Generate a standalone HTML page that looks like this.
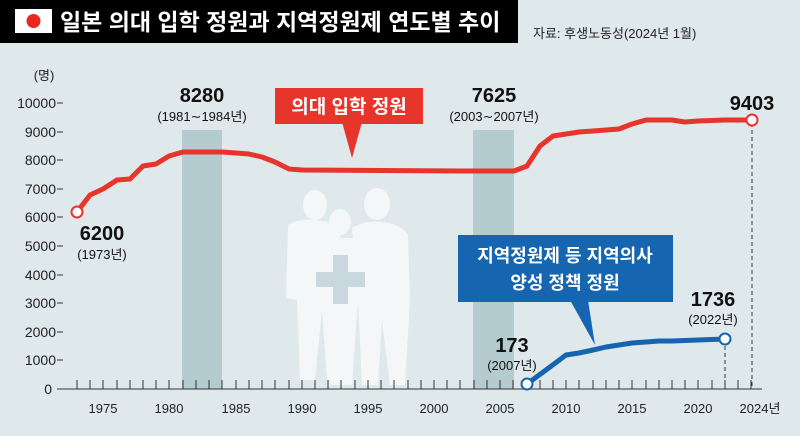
<!DOCTYPE html>
<html><head><meta charset="utf-8"><style>
body{margin:0;width:800px;height:431px;overflow:hidden;background:#dfe8eb;font-family:"Liberation Sans","Noto Sans CJK KR",sans-serif}
</style></head><body>
<svg width="800" height="431" viewBox="0 0 800 431" xmlns="http://www.w3.org/2000/svg" style="font-family:'Liberation Sans','Noto Sans CJK KR',sans-serif">
<rect width="800" height="431" fill="#dfe8eb"/>
<rect x="0" y="0" width="518" height="43" fill="#000"/>
<rect x="15" y="9" width="37" height="24" fill="#fff"/>
<circle cx="33.5" cy="21" r="7" fill="#e8281f"/>
<text x="60" y="30" fill="#fff" font-size="23" font-weight="bold">일본 의대 입학 정원과 지역정원제 연도별 추이</text>
<text x="533" y="38" fill="#222" font-size="13">자료: 후생노동성(2024년 1월)</text>
<!-- bands -->
<rect x="182" y="130" width="40" height="259" fill="#b4cbcf"/>
<rect x="473" y="130" width="41" height="259" fill="#b4cbcf"/>
<!-- silhouettes -->
<g fill="#f4f7f8">
<ellipse cx="315" cy="205" rx="12" ry="15"/>
<path d="M288 225 Q300 218 315 220 Q330 220 340 232 L345 300 L340 380 L327 380 L322 310 L315 380 L300 380 L297 300 L286 298 Z"/>
<ellipse cx="340" cy="222" rx="11" ry="13"/>
<path d="M325 238 L355 238 L358 300 L352 385 L330 385 Z"/>
<ellipse cx="377" cy="204" rx="13" ry="16"/>
<path d="M352 228 Q365 220 378 222 Q400 222 408 235 L410 300 L405 385 L390 385 L382 320 L378 385 L362 385 L358 300 Z"/>
</g>
<path d="M333 255 h15 v17 h17 v15 h-17 v17 h-15 v-17 h-17 v-15 h17 z" fill="#c8d8dc"/>
<!-- y axis -->
<g font-size="14" fill="#222" text-anchor="end">
<text x="44" y="80" text-anchor="middle" font-size="13">(명)</text>
<text x="56" y="108">10000</text><text x="56" y="137">9000</text><text x="56" y="165">8000</text>
<text x="56" y="194">7000</text><text x="56" y="222">6000</text><text x="56" y="251">5000</text>
<text x="56" y="280">4000</text><text x="56" y="308">3000</text><text x="56" y="337">2000</text>
<text x="56" y="365">1000</text><text x="52" y="394">0</text>
</g>
<g stroke="#333" stroke-width="1">
<path d="M57 103h6M57 132h6M57 160h6M57 189h6M57 217h6M57 246h6M57 275h6M57 303h6M57 332h6M57 360h6"/>
<line x1="57" y1="389" x2="762" y2="389"/>
<path id="t" d="M77 389v-9M90 389v-9M103 389v-9M117 389v-9M130 389v-9M143 389v-9M156 389v-9M169 389v-9M183 389v-9M196 389v-9M209 389v-9M222 389v-9M236 389v-9M249 389v-9M262 389v-9M275 389v-9M289 389v-9M302 389v-9M315 389v-9M328 389v-9M341 389v-9M355 389v-9M368 389v-9M381 389v-9M394 389v-9M408 389v-9M421 389v-9M434 389v-9M447 389v-9M460 389v-9M474 389v-9M487 389v-9M500 389v-9M513 389v-9M527 389v-9M540 389v-9M553 389v-9M566 389v-9M579 389v-9M593 389v-9M606 389v-9M619 389v-9M632 389v-9M646 389v-9M659 389v-9M672 389v-9M685 389v-9M698 389v-9M712 389v-9M725 389v-9M738 389v-9M751 389v-9"/>
</g>
<line x1="752" y1="123" x2="752" y2="389" stroke="#333" stroke-dasharray="4,3"/>
<line x1="725" y1="346" x2="725" y2="389" stroke="#333" stroke-dasharray="4,3"/>
<g font-size="13" fill="#222" text-anchor="middle">
<text x="103" y="413">1975</text><text x="169" y="413">1980</text><text x="236" y="413">1985</text>
<text x="302" y="413">1990</text><text x="368" y="413">1995</text><text x="434" y="413">2000</text>
<text x="500" y="413">2005</text><text x="566" y="413">2010</text><text x="632" y="413">2015</text>
<text x="698" y="413">2020</text><text x="760" y="413">2024년</text>
</g>
<!-- red line -->
<polyline fill="none" stroke="#e8352b" stroke-width="5" stroke-linejoin="round" points="77,212 90,195 103,189 117,180 130,179 143,166 156,164 169,156 183,152 222,152 236,153 249,154 262,157 275,162 289,169 302,170 460,171 514,171 527,166 540,146 553,136 566,134 579,132 593,131 606,130 619,129 632,124 646,120 659,120 672,120 685,122 698,121 725,120 752,120"/>
<circle cx="77" cy="212" r="5.5" fill="#fff" stroke="#e8352b" stroke-width="2"/>
<circle cx="752" cy="120" r="5.5" fill="#fff" stroke="#e8352b" stroke-width="2"/>
<!-- blue line -->
<polyline fill="none" stroke="#1565b0" stroke-width="5" stroke-linejoin="round" points="527,384 550,367 566,355 579,353 593,350 606,347 619,345 632,343 646,342 659,341 672,341 698,340 725,339"/>
<circle cx="527" cy="384" r="5.5" fill="#fff" stroke="#1565b0" stroke-width="2"/>
<circle cx="725" cy="339" r="5.5" fill="#fff" stroke="#1565b0" stroke-width="2"/>
<!-- labels -->
<g fill="#111" text-anchor="middle">
<text x="202" y="102" font-size="20" font-weight="bold">8280</text>
<text x="202" y="121" font-size="13">(1981∼1984년)</text>
<text x="494" y="102" font-size="20" font-weight="bold">7625</text>
<text x="494" y="121" font-size="13">(2003∼2007년)</text>
<text x="102" y="240" font-size="20" font-weight="bold">6200</text>
<text x="102" y="259" font-size="13">(1973년)</text>
<text x="752" y="110" font-size="20" font-weight="bold">9403</text>
<text x="713" y="306" font-size="20" font-weight="bold">1736</text>
<text x="713" y="324" font-size="13">(2022년)</text>
<text x="512" y="352" font-size="20" font-weight="bold">173</text>
<text x="512" y="370" font-size="13">(2007년)</text>
</g>
<!-- red callout -->
<path d="M342 122 L352 158 L362 122 Z" fill="#e8352b"/>
<rect x="275" y="88" width="148" height="36" fill="#e8352b"/>
<text x="349" y="113" fill="#fff" font-size="19" font-weight="bold" text-anchor="middle">의대 입학 정원</text>
<!-- blue callout -->
<path d="M570 300 L595 345 L588 300 Z" fill="#1565b0"/>
<rect x="458" y="235" width="215" height="67" fill="#1565b0"/>
<text x="565" y="262" fill="#fff" font-size="18" font-weight="bold" text-anchor="middle">지역정원제 등 지역의사</text>
<text x="565" y="289" fill="#fff" font-size="18" font-weight="bold" text-anchor="middle">양성 정책 정원</text>
</svg>
</body></html>
